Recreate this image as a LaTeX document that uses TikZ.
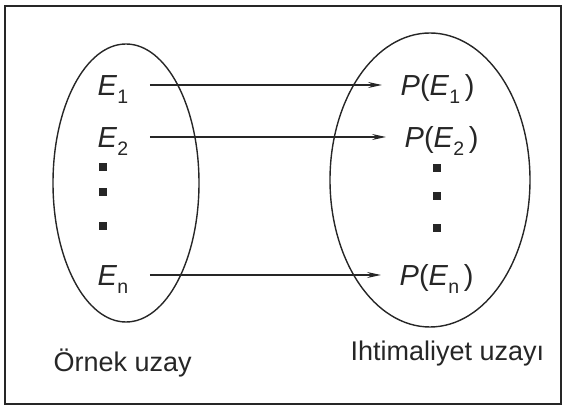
\documentclass[tikz,border=0pt]{standalone}
\usepackage{fontspec}
\setmainfont{Liberation Sans}
\usetikzlibrary{arrows.meta}
\newcommand{\Eind}[1]{\textit{E}\raisebox{-8pt}{\fontsize{19.5}{20}\selectfont#1}}
\tikzset{
 olay/.style={anchor=west,inner sep=0pt,text height=25pt,text depth=4pt},
 kare/.style={fill,inner sep=0pt,minimum size=8pt},
 ok/.style={-{Stealth[length=14pt,width=6pt,inset=5pt]},line width=1.3pt,shorten <=21pt,shorten >=18pt},
 uzay/.style={anchor=base west,inner sep=0pt,font=\fontsize{27}{31}\selectfont}
}

\begin{document}
\begin{tikzpicture}[font=\fontsize{29}{34}\selectfont,x=1pt,y=1pt,line width=1.4pt,color=black!85]
\useasboundingbox (0,0) rectangle (563,412);
\draw[line width=1.8pt] (5,8) rectangle (561,406);
\draw (126,229) ellipse [x radius=73,y radius=139];
\draw (430,232) ellipse [x radius=100,y radius=147];
\foreach \n/\y in {1/327,2/275,n/137}{\node[olay] (e\n) at (97,\y) {\Eind{\n}};}
\foreach \n/\x/\y in {1/400/327,2/404/275,n/399/137}{\node[olay] (pe\n) at (\x,\y) {\textit{P}(\Eind{\n}\,)};}
\foreach \i/\y in {1/245,2/220,3/186}{\node[kare] (sol\i) at (103,\y) {};}
\foreach \i/\y in {1/244,2/216,3/184}{\node[kare] (sag\i) at (437,\y) {};}
\foreach \n in {1,2,n}{\draw[ok] (e\n.east) -- (e\n.east -| pe\n.west);}
\node[uzay] (ornek) at (53,40) {Örnek uzay};
\node[uzay] (ihtimal) at (350,51) {Ihtimaliyet uzayı};
\end{tikzpicture}
\end{document}
